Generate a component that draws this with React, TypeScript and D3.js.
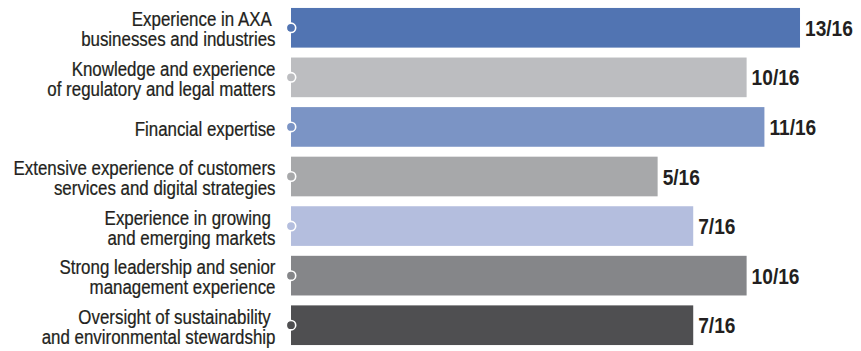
import React from "react";
import * as d3 from "d3";

const categories: string[][] = [
  ["Experience in AXA ", "businesses and industries"],
  ["Knowledge and experience", "of regulatory and legal matters"],
  ["Financial expertise"],
  ["Extensive experience of customers", "services and digital strategies"],
  ["Experience in growing ", "and emerging markets"],
  ["Strong leadership and senior", "management experience"],
  ["Oversight of sustainability ", "and environmental stewardship"],
];
const values: number[] = [13, 10, 11, 5, 7, 10, 7];
const total = 16;
const colors: string[] = ["#5174b2", "#bcbdc0", "#7b94c5", "#a7a8aa", "#b4bede", "#858689", "#4f4f51"];

const W = 861;
const H = 351;

export default function App() {
  const x = d3.scaleLinear().domain([-15.6, 16]).range([291, 853.4]);
  const y = d3
    .scaleBand<number>()
    .domain(d3.range(values.length))
    .range([3, 350])
    .paddingInner(0.2)
    .paddingOuter(0.1);
  const font = "'Liberation Sans', Arial, sans-serif";
  return (
    <svg
      width={W}
      height={H}
      style={{ position: "absolute", left: 0, top: 0, display: "block" }}
      fontFamily={font}
    >
      <rect width={W} height={H} fill="#ffffff" />
      {values.map((v, i) => {
        const yy = y(i)!;
        const bh = y.bandwidth();
        const cy = yy + bh / 2;
        const lines = categories[i];
        const n = lines.length;
        return (
          <g key={i}>
            <rect x={x(-15.6)} y={yy} width={x(v) - x(-15.6)} height={bh} fill={colors[i]} />
            <circle cx={x(-15.6)} cy={cy} r={4.7} fill={colors[i]} stroke="#ffffff" strokeWidth={1.6} />
            <text
              transform={`translate(${x(v) + 5},${cy + 8}) scale(0.87,1)`}
              fontSize={22}
              fontWeight="bold"
              fill="#231f20"
            >
              {`${v}/${total}`}
            </text>
            <text
              transform={`translate(275.5,${cy}) scale(0.805,1)`}
              textAnchor="end"
              fontSize={21}
              fill="#231f20"
              stroke="#231f20"
              strokeWidth={0.25}
              style={{ whiteSpace: "pre" }}
            >
              {lines.map((l, j) => (
                <tspan key={j} x={0} y={9 - (n - 1) * 10.5 + j * 20}>
                  {l}
                </tspan>
              ))}
            </text>
          </g>
        );
      })}
    </svg>
  );
}
